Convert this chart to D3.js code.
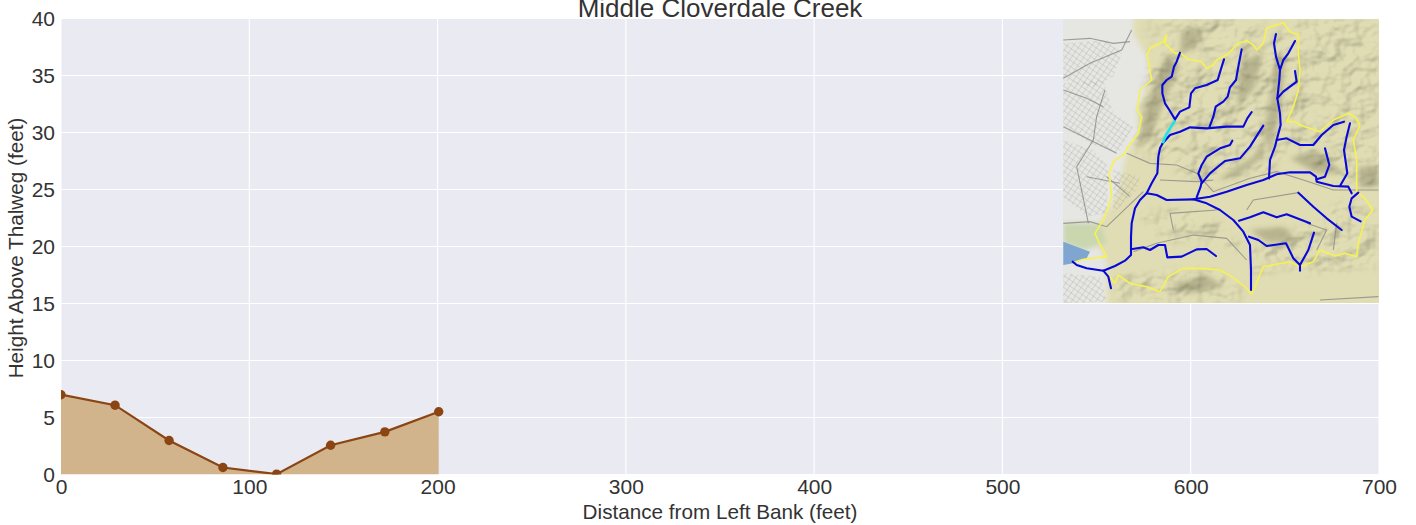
<!DOCTYPE html>
<html><head><meta charset="utf-8">
<script src="https://cdn.jsdelivr.net/npm/d3@7/dist/d3.min.js"></script>
<style>html,body{margin:0;background:#fff}svg{display:block}text{font-family:"Liberation Sans",Arial,sans-serif;fill:#333}</style>
</head><body><svg id="c" width="1416" height="525"></svg>
<script>
const titleText="Middle Cloverdale Creek";
const xLabel="Distance from Left Bank (feet)";
const yLabel="Height Above Thalweg (feet)";
const xTicks=[0,100,200,300,400,500,600,700];
const yTicks=[0,5,10,15,20,25,30,35,40];
const distance=[0,28.7,57.4,86,114.5,143.2,172,200.6];
const height=[7,6.08,2.98,0.61,0.03,2.57,3.74,5.5];

// inset map geometry, in map units
const boundary=[[68,758],[100,748],[170,740],[148,700],[135,670],[165,620],[185,560],[178,490],[190,455],[225,430],[235,410],[265,370],[275,320],[262,300],[270,240],[305,210],[292,135],[300,115],[340,95],[350,75],[345,100],[375,130],[390,128],[415,148],[455,155],[470,175],[490,165],[500,150],[530,135],[565,100],[590,92],[610,105],[620,120],[640,100],[650,55],[700,38],[720,65],[745,75],[745,130],[750,180],[745,240],[730,290],[710,335],[735,335],[750,345],[810,365],[850,330],[895,310],[915,320],[930,345],[910,390],[920,450],[920,545],[945,565],[968,600],[945,630],[925,700],[920,740],[885,730],[855,738],[810,720],[790,755],[750,770],[720,755],[695,760],[640,770],[615,830],[605,852],[585,830],[545,800],[510,780],[450,775],[400,775],[355,800],[330,845],[290,830],[240,820],[205,795],[195,820],[170,790]];
const streams=[
[[68,755],[80,765],[110,775],[160,782],[195,768],[225,752],[243,735],[243,680],[245,640],[255,595],[270,570],[290,550],[305,520],[322,490],[325,440],[330,415],[338,400]],
[[160,782],[175,800],[183,835]],
[[243,718],[280,712],[300,720],[325,705],[345,705],[352,742],[395,740],[440,718],[470,717],[498,738]],
[[290,550],[320,555],[350,570],[430,568],[470,580],[510,600],[550,630],[580,665],[600,705],[603,780],[603,840]],
[[430,568],[480,560],[530,545],[590,525],[640,510],[680,493],[720,487],[780,487],[798,500],[800,515],[850,528],[895,530],[905,550]],
[[440,562],[452,530],[455,515],[445,490],[455,465],[470,440],[510,415],[540,405],[547,392]],
[[455,520],[480,490],[510,465],[525,453],[570,445],[600,410],[625,370],[640,347]],
[[657,505],[660,450],[675,410],[680,390],[692,345],[690,310],[682,265],[688,210],[690,180],[678,140],[672,100],[678,72]],
[[690,180],[700,150],[715,130],[735,93]],
[[682,265],[700,245],[740,215],[735,183]],
[[680,390],[710,385],[750,405],[790,405],[815,375],[850,345],[882,335]],
[[800,508],[825,500],[838,465],[825,415]],
[[870,528],[892,490],[882,420],[890,380],[900,340]],
[[925,548],[905,565],[898,590],[905,620],[932,634]],
[[745,548],[790,590],[830,625],[875,660]],
[[567,632],[600,622],[640,607],[680,622],[710,613],[780,640]],
[[597,680],[625,690],[650,708],[708,700],[730,745],[750,765],[775,720],[792,668]],
[[750,765],[750,782]],
[[338,400],[360,375],[390,365],[420,352],[470,355],[530,350],[580,350],[592,325],[605,306]],
[[478,352],[490,320],[497,290],[520,275],[533,260],[540,232],[558,210],[565,170],[575,118]],
[[375,328],[390,305],[418,292],[423,250],[435,235],[470,225],[503,210],[512,180],[522,148]],
[[375,328],[358,300],[345,280],[337,250],[337,225],[350,210],[365,200],[372,170],[380,155],[390,128]]
];
const tributary=[[338,400],[348,375],[362,352],[375,332]];
const roads=[
[[40,90],[120,85],[190,100],[240,95]],[[40,205],[120,160],[215,120],[245,60]],[[40,240],[110,265],[160,290]],
[[165,240],[140,320],[130,390],[80,470],[105,590],[115,640]],[[230,430],[300,460],[380,465],[440,490],[490,545],[600,505],[680,485],[760,510],[850,540],[985,540]],
[[40,350],[120,390],[200,430]],[[170,500],[240,560]],[[110,500],[210,520]],
[[40,640],[120,635],[170,650],[280,545]],[[250,725],[320,700],[430,675],[530,685],[590,750]],[[330,510],[440,515],[490,510]],[[370,660],[360,610],[500,600]],
[[590,600],[610,570],[745,548]],[[860,640],[850,720]],[[770,640],[830,660],[800,720]],[[810,870],[985,860]]
];
const streetPatches=[
[[40,100],[170,90],[215,130],[190,200],[130,230],[40,210]],
[[40,220],[160,210],[190,310],[250,350],[205,430],[120,400],[40,350]],
[[40,390],[130,420],[175,470],[170,610],[110,620],[40,560]],
[[190,480],[270,500],[260,540],[190,610]],
[[40,790],[150,800],[170,875],[40,880]]
];
const hills=[
[[300,120],[350,85],[400,140],[480,180],[570,110],[640,110],[700,50],[760,80],[760,320],[680,470],[480,530],[330,450],[240,420],[280,320]],
[[740,30],[985,30],[985,540],[810,480],[720,400],[760,300]],
[[350,30],[640,30],[630,90],[480,150],[350,70],[260,60]],
[[600,700],[790,640],[900,560],[985,620],[985,770],[800,790],[700,770],[610,800]],
[[270,620],[360,590],[500,640],[590,720],[500,700],[350,690]],
[[200,800],[350,790],[480,780],[590,840],[560,880],[210,880]]
];
const ridges=[
[[640,370],[665,250],[680,130],[705,140],[695,300],[660,420]],
[[350,130],[390,170],[345,270],[300,380],[260,420],[285,290]],
[[500,510],[610,440],[645,380],[640,440],[560,500]],
[[395,60],[450,50],[440,110],[390,130]],
[[720,445],[800,420],[880,490],[800,490]],
[[925,470],[985,470],[985,530],[925,530]],
[[575,150],[640,130],[610,240],[560,290]],
[[360,825],[470,795],[520,830],[420,850]],
[[600,660],[700,650],[745,700],[650,695]]
];
const xExtent=[0,700], yExtent=[0,40];

const svg=d3.select("#c");
const x=d3.scaleLinear().domain(xExtent).range([61,1379]);
const y=d3.scaleLinear().domain(yExtent).range([474.5,18.5]);
const mx=d3.scaleLinear().domain([0,3]).range([1050,1051]);
const my=d3.scaleLinear().domain([0,3]).range([10,11]);
const line=d3.line().x(d=>mx(d[0])).y(d=>my(d[1]));

svg.append("text").attr("x",x(350)).attr("y",17).attr("text-anchor","middle").attr("font-size",26).text(titleText);
const defs=svg.append("defs");
defs.append("clipPath").attr("id","plot").append("rect").attr("x",61).attr("y",18.5).attr("width",1318).attr("height",456);
defs.append("clipPath").attr("id","inset").append("rect").attr("x",1063).attr("y",19).attr("width",316).attr("height",284);
const bl=defs.append("filter").attr("id","blur").attr("x","-30%").attr("y","-30%").attr("width","160%").attr("height","160%");
bl.append("feGaussianBlur").attr("stdDeviation",4);
const bl3=defs.append("filter").attr("id","blurS").attr("x","-30%").attr("y","-30%").attr("width","160%").attr("height","160%");
bl3.append("feGaussianBlur").attr("stdDeviation",2.5);
const bl2=defs.append("filter").attr("id","blur2").attr("x","-10%").attr("y","-10%").attr("width","120%").attr("height","120%");
bl2.append("feGaussianBlur").attr("stdDeviation",0.4);
const hs=defs.append("filter").attr("id","relief").attr("x","0").attr("y","0").attr("width","100%").attr("height","100%");
hs.append("feTurbulence").attr("type","fractalNoise").attr("baseFrequency","0.04 0.05").attr("numOctaves",3).attr("seed",7).attr("result","n");
const li=hs.append("feDiffuseLighting").attr("in","n").attr("surfaceScale",6).attr("diffuseConstant",1.1).attr("lighting-color","#fff");
li.append("feDistantLight").attr("azimuth",225).attr("elevation",58);
const mk=defs.append("mask").attr("id","hillMask").attr("maskUnits","userSpaceOnUse").attr("x",1063).attr("y",19).attr("width",316).attr("height",284);
mk.append("g").attr("filter","url(#blur)").selectAll("path").data(hills).join("path").attr("d",d=>line(d)+"Z").attr("fill","#ddd");
const pat=defs.append("pattern").attr("id","streets").attr("width",5).attr("height",5).attr("patternUnits","userSpaceOnUse").attr("patternTransform","rotate(35)");
pat.append("path").attr("d","M0 0H5M0 0V5").attr("stroke","#a2a2a0").attr("stroke-width",0.7).attr("fill","none");

svg.append("rect").attr("x",61).attr("y",18.5).attr("width",1318).attr("height",456).attr("fill","#EAEAF2");
const grid=svg.append("g").attr("stroke","#fff").attr("stroke-width",1.1);
grid.selectAll("line.v").data(xTicks).join("line").attr("x1",d=>x(d)).attr("x2",d=>x(d)).attr("y1",18.5).attr("y2",474.5);
grid.selectAll("line.h").data(yTicks).join("line").attr("x1",61).attr("x2",1379).attr("y1",d=>y(d)).attr("y2",d=>y(d));

const pts=distance.map((d,i)=>[d,height[i]]);
const g=svg.append("g").attr("clip-path","url(#plot)");
g.append("path").datum(pts).attr("fill","#D2B48C").attr("d",d3.area().x(d=>x(d[0])).y0(y(0)).y1(d=>y(d[1])));
g.append("path").datum(pts).attr("fill","none").attr("stroke","#8B4513").attr("stroke-width",2.2).attr("d",d3.line().x(d=>x(d[0])).y(d=>y(d[1])));
g.selectAll("circle").data(pts).join("circle").attr("cx",d=>x(d[0])).attr("cy",d=>y(d[1])).attr("r",4.7).attr("fill","#8B4513");

// inset
const m=svg.append("g").attr("clip-path","url(#inset)").style("isolation","isolate");
m.append("rect").attr("x",1063).attr("y",19).attr("width",316).attr("height",284).attr("fill","#e0ddb4");
m.append("path").datum([[20,10],[250,10],[250,70],[290,140],[300,210],[260,300],[270,370],[230,430],[200,560],[150,640],[130,670],[170,760],[170,890],[20,890]]).attr("d",line).attr("fill","#e6e6e3").attr("filter","url(#blurS)");
m.append("path").datum([[40,640],[150,640],[170,700],[100,720],[40,700]]).attr("d",line).attr("fill","#c9d6ae").attr("filter","url(#blurS)");
m.append("g").attr("filter","url(#blur2)").selectAll("path").data(streetPatches).join("path").attr("d",d=>line(d)+"Z").attr("fill","url(#streets)").attr("opacity",0.85);
m.append("rect").attr("x",1063).attr("y",19).attr("width",316).attr("height",284).attr("filter","url(#relief)").attr("mask","url(#hillMask)").style("mix-blend-mode","multiply").attr("opacity",0.75);
m.append("g").attr("filter","url(#blurS)").selectAll("path").data(ridges).join("path").attr("d",d=>line(d)+"Z").attr("fill","#6d6a4c").attr("opacity",0.34);
m.append("g").attr("fill","none").attr("stroke","#8a8a86").attr("filter","url(#blur2)").selectAll("path").data(roads).join("path").attr("d",line).attr("stroke-width",1.1).attr("opacity",0.8);
m.append("path").datum([[40,695],[120,725],[110,745],[70,760],[40,765]]).attr("d",line).attr("fill","#7fa6d0").attr("filter","url(#blur2)");
m.append("path").datum(boundary).attr("d",line).attr("fill","none").attr("stroke","#f6f254").attr("stroke-width",1.6).attr("stroke-linejoin","round");
m.append("g").selectAll("path").data(streams).join("path").attr("d",line).attr("fill","none").attr("stroke","#0808d8").attr("stroke-width",2.1).attr("stroke-linecap","round").attr("stroke-linejoin","round");
m.append("path").datum(tributary).attr("d",line).attr("fill","none").attr("stroke","#19e6ea").attr("stroke-width",2.6);

// axes
const ax=d3.axisBottom(x).tickValues(xTicks).tickSize(0).tickPadding(5);
const ay=d3.axisLeft(y).tickValues(yTicks).tickSize(0).tickPadding(6);
const gx=svg.append("g").attr("transform","translate(0,474.5)").call(ax);
const gy=svg.append("g").attr("transform","translate(61,0)").call(ay);
[gx,gy].forEach(a=>{a.select(".domain").remove();a.selectAll("text").attr("font-size",21).style("font-family",'"Liberation Sans",Arial,sans-serif').style("fill","#333");});
svg.append("text").attr("x",x(350)).attr("y",518.5).attr("text-anchor","middle").attr("font-size",20.7).text(xLabel);
svg.append("text").attr("transform","translate(23,248) rotate(-90)").attr("text-anchor","middle").attr("font-size",20.7).text(yLabel);
</script></body></html>
